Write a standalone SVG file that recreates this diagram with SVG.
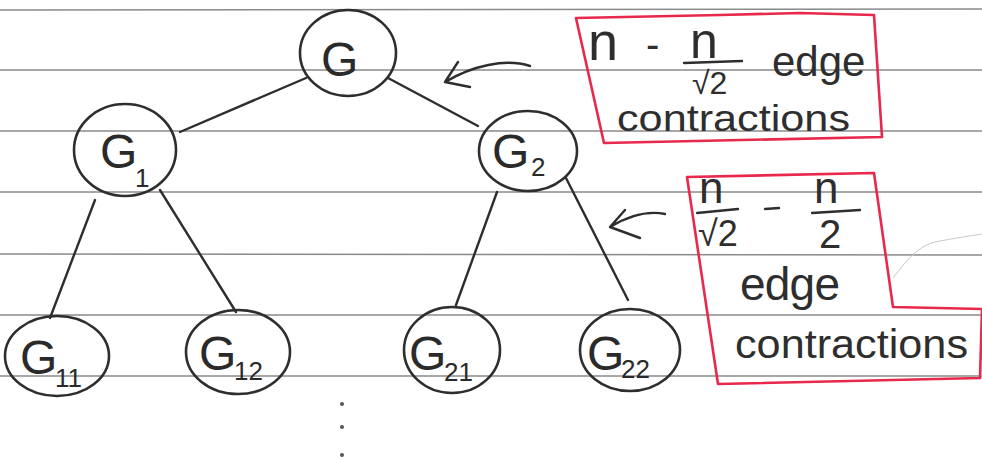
<svg xmlns="http://www.w3.org/2000/svg" width="982" height="459" viewBox="0 0 982 459">
<style>
.rule{stroke:#8a8a8a;stroke-width:1.6;fill:none}
.node{fill:none;stroke:#2e2e2e;stroke-width:2.6}
.edge{fill:none;stroke:#2e2e2e;stroke-width:2.4;stroke-linecap:round}
.box{fill:none;stroke:#e8284c;stroke-width:2.6;stroke-linejoin:round}
.lbl{font-family:"Liberation Sans","DejaVu Sans",sans-serif;fill:#2a2a2a}
.g{font-size:48px}
.sub{font-size:26px}
.hw{font-family:"Liberation Sans","DejaVu Sans",sans-serif;fill:#2e2e2e}
</style>
<rect width="982" height="459" fill="#ffffff"/>
<g id="paper">
<line class="rule" x1="0" y1="10" x2="982" y2="9" stroke-width="2.2"/>
<line class="rule" x1="0" y1="70" x2="982" y2="70"/>
<line class="rule" x1="0" y1="131" x2="982" y2="131"/>
<line class="rule" x1="0" y1="192" x2="982" y2="192"/>
<line class="rule" x1="0" y1="254" x2="982" y2="255"/>
<line class="rule" x1="0" y1="315" x2="982" y2="315"/>
<line class="rule" x1="0" y1="376" x2="982" y2="376"/>
<path d="M893,278 C905,262 918,246 935,242 C955,238 970,236 982,234" fill="none" stroke="#c8c8c8" stroke-width="1"/>
</g>
<g id="connectors">
<line class="edge" x1="306" y1="78" x2="180" y2="132"/>
<line class="edge" x1="388" y1="78" x2="478" y2="126"/>
<line class="edge" x1="95" y1="200" x2="50" y2="318"/>
<line class="edge" x1="160" y1="190" x2="236" y2="312"/>
<line class="edge" x1="497" y1="192" x2="456" y2="305"/>
<line class="edge" x1="566" y1="178" x2="628" y2="300"/>
<path class="edge" d="M530,66 C505,58 472,66 445,82 M445,82 L458,62 M445,82 L470,87"/>
<path class="edge" d="M665,214 C645,210 625,218 610,227 M610,227 L625,210 M610,227 L640,238"/>
</g>
<g id="node-G">
<ellipse class="node" cx="348" cy="53" rx="48" ry="43"/>
<text class="lbl g" x="321" y="76">G</text>
</g>
<g id="node-G1">
<ellipse class="node" cx="125" cy="150" rx="51" ry="46"/>
<text class="lbl g" x="100" y="168">G</text>
<text class="lbl sub" x="135" y="187">1</text>
</g>
<g id="node-G2">
<ellipse class="node" cx="528" cy="151" rx="49" ry="40"/>
<text class="lbl g" x="492" y="168">G</text>
<text class="lbl sub" x="531" y="176">2</text>
</g>
<g id="node-G11">
<ellipse class="node" cx="57" cy="356" rx="52" ry="40"/>
<text class="lbl g" x="20" y="374">G</text>
<text class="lbl sub" x="55" y="387">11</text>
</g>
<g id="node-G12">
<ellipse class="node" cx="238" cy="352" rx="52" ry="42"/>
<text class="lbl g" x="199" y="370">G</text>
<text class="lbl sub" x="234" y="380">12</text>
</g>
<g id="node-G21">
<ellipse class="node" cx="452" cy="350" rx="48" ry="43"/>
<text class="lbl g" x="409" y="370">G</text>
<text class="lbl sub" x="444" y="381">21</text>
</g>
<g id="node-G22">
<ellipse class="node" cx="630" cy="350" rx="50" ry="41"/>
<text class="lbl g" x="587" y="370">G</text>
<text class="lbl sub" x="621" y="378">22</text>
</g>
<g id="dots">
<circle cx="342" cy="404" r="2" fill="#555"/>
<circle cx="342" cy="427" r="2" fill="#555"/>
<circle cx="342" cy="455" r="2" fill="#555"/>
</g>
<g id="note-1">
<path class="box" d="M576,18 L720,15 L800,13 L874,15 L882,137 L604,143 Z"/>
<text class="hw" x="588" y="60" font-size="54">n</text>
<text class="hw" x="646" y="58" font-size="40">-</text>
<text class="hw" x="690" y="58" font-size="50">n</text>
<line class="edge" x1="684" y1="63" x2="742" y2="61"/>
<text class="hw" x="692" y="94" font-size="32">√2</text>
<text class="hw" x="772" y="76" font-size="42">edge</text>
<text class="hw" x="617" y="131" font-size="36" textLength="233" lengthAdjust="spacingAndGlyphs">contractions</text>
</g>
<g id="note-2">
<path class="box" d="M687,177 L874,173 L893,307 L982,309 L980,378 L718,384 Z"/>
<text class="hw" x="699" y="203" font-size="44">n</text>
<line class="edge" x1="697" y1="213" x2="738" y2="209"/>
<text class="hw" x="698" y="246" font-size="36">√2</text>
<line class="edge" x1="765" y1="209" x2="779" y2="208"/>
<text class="hw" x="814" y="203" font-size="44">n</text>
<line class="edge" x1="812" y1="213" x2="860" y2="210"/>
<text class="hw" x="819" y="248" font-size="40">2</text>
<text class="hw" x="740" y="300" font-size="46" textLength="100">edge</text>
<text class="hw" x="735" y="358" font-size="40" textLength="233" lengthAdjust="spacingAndGlyphs">contractions</text>
</g>
</svg>
